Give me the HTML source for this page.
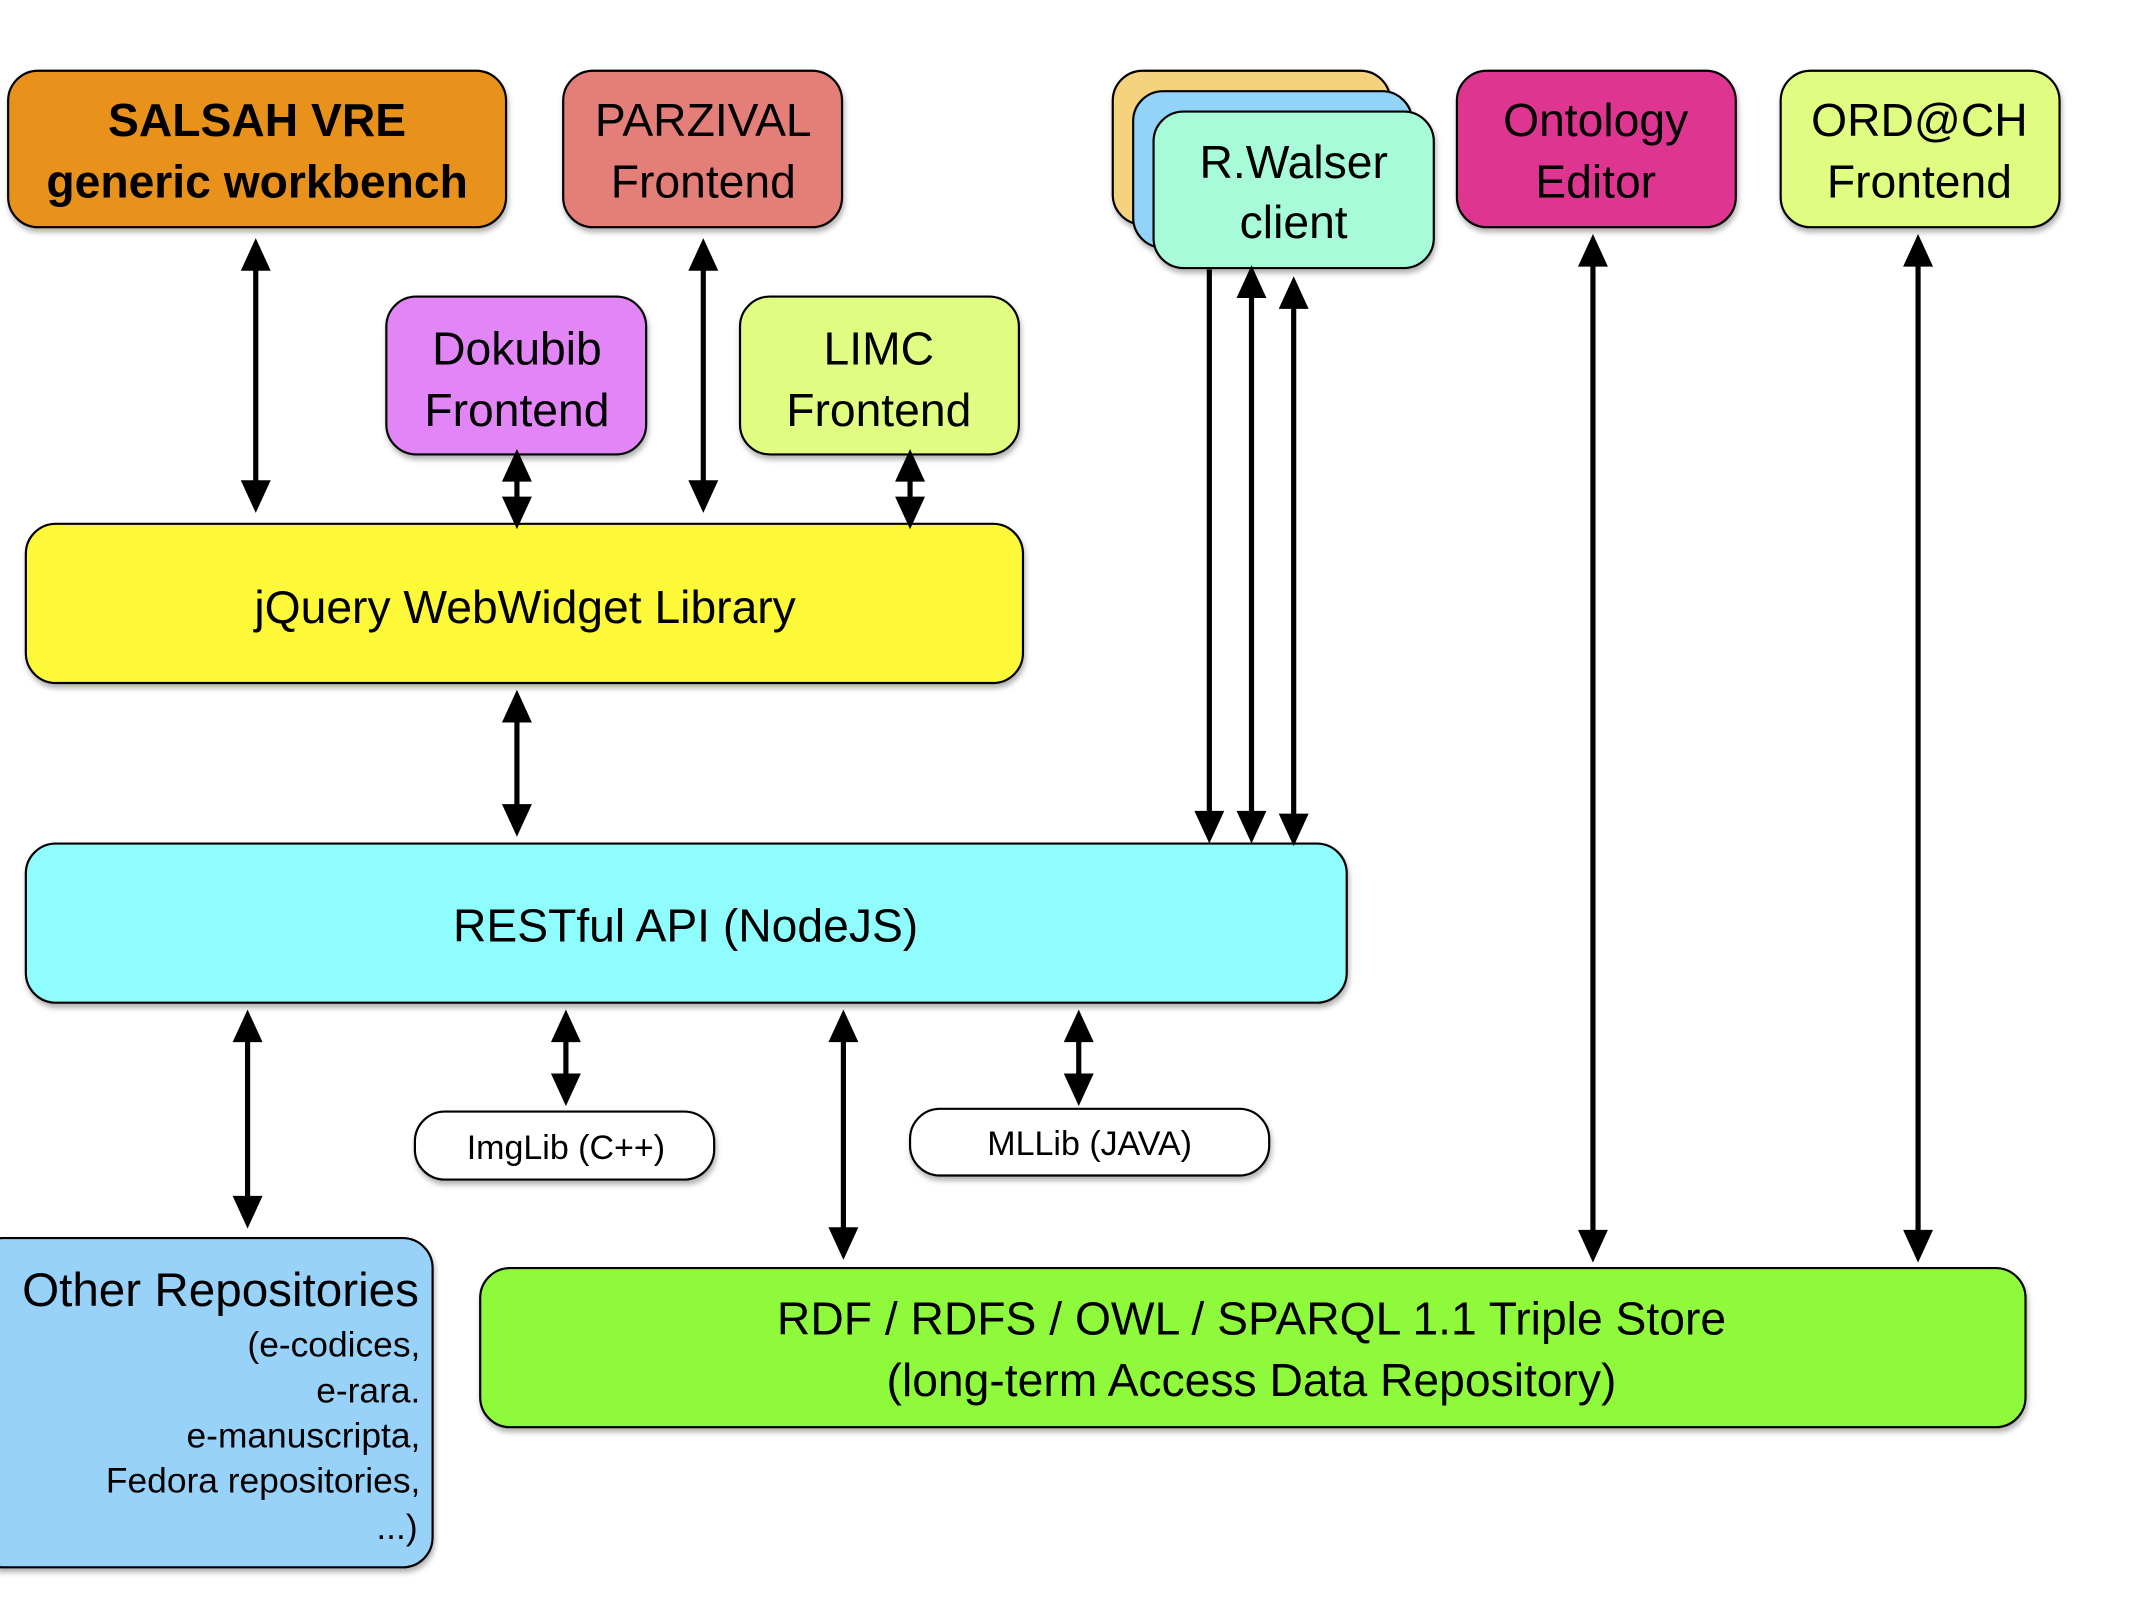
<!DOCTYPE html>
<html><head><meta charset="utf-8"><style>
html,body{margin:0;padding:0;background:#fff}
svg{display:block}
text{font-family:"Liberation Sans",sans-serif;fill:#000}
</style></head><body>
<svg width="2133" height="1600" viewBox="0 0 1568 1176" preserveAspectRatio="none" xmlns="http://www.w3.org/2000/svg">
<defs>
<filter id="sh" x="-10%" y="-10%" width="120%" height="130%"><feDropShadow dx="1" dy="3" stdDeviation="2" flood-color="#000" flood-opacity="0.3"/></filter>
</defs>
<g stroke="#000" stroke-width="1.6" filter="url(#sh)">
<rect x="6" y="52" width="366" height="115" rx="22" fill="#E8921E"/>
<rect x="414" y="52" width="205" height="115" rx="22" fill="#E37E78"/>
<rect x="818" y="52" width="204" height="113" rx="22" fill="#F4D27E"/>
<rect x="833" y="67" width="205" height="115" rx="22" fill="#93D3F9"/>
<rect x="848" y="82" width="206" height="115" rx="22" fill="#A7FBD9"/>
<rect x="1071" y="52" width="205" height="115" rx="22" fill="#DD3590"/>
<rect x="1309" y="52" width="205" height="115" rx="22" fill="#E1FD81"/>
<rect x="284" y="218" width="191" height="116" rx="22" fill="#E185F7"/>
<rect x="544" y="218" width="205" height="116" rx="22" fill="#E1FD81"/>
<rect x="19" y="385" width="733" height="117" rx="22" fill="#FDF939"/>
<rect x="19" y="620" width="971" height="117" rx="22" fill="#8FFDFE"/>
<rect x="305" y="817" width="220" height="50" rx="22" fill="#fff"/>
<rect x="669" y="815" width="264" height="49" rx="22" fill="#fff"/>
<rect x="-20" y="910" width="338" height="242" rx="22" fill="#99D2F9"/>
<rect x="353" y="932" width="1136" height="117" rx="22" fill="#8FF93A"/>
</g>
<g font-size="34" text-anchor="middle">
<text x="189" y="100" font-weight="bold">SALSAH VRE</text>
<text x="189" y="145" font-weight="bold">generic workbench</text>
<text x="517" y="100">PARZIVAL</text>
<text x="517" y="145">Frontend</text>
<text x="951" y="131">R.Walser</text>
<text x="951" y="175">client</text>
<text x="1173" y="100">Ontology</text>
<text x="1173" y="145">Editor</text>
<text x="1411" y="100">ORD@CH</text>
<text x="1411" y="145">Frontend</text>
<text x="380" y="268">Dokubib</text>
<text x="380" y="313">Frontend</text>
<text x="646" y="268">LIMC</text>
<text x="646" y="313">Frontend</text>
<text x="386" y="458">jQuery WebWidget Library</text>
<text x="504" y="692">RESTful API (NodeJS)</text>
<text x="920" y="981">RDF / RDFS / OWL / SPARQL 1.1 Triple Store</text>
<text x="920" y="1026">(long-term Access Data Repository)</text>
<text x="416" y="852" font-size="25">ImgLib (C++)</text>
<text x="801" y="849" font-size="25">MLLib (JAVA)</text>
</g>
<g text-anchor="end" font-size="26">
<text x="308" y="960" font-size="35">Other Repositories</text>
<text x="309" y="997">(e-codices,</text>
<text x="309" y="1031">e-rara.</text>
<text x="309" y="1064">e-manuscripta,</text>
<text x="309" y="1097">Fedora repositories,</text>
<text x="307" y="1131">...)</text>
</g>
<g stroke="#000" stroke-width="3.8">
<line x1="188" y1="190" x2="188" y2="362"/>
<line x1="517" y1="190" x2="517" y2="362"/>
<line x1="380" y1="345" x2="380" y2="374"/>
<line x1="669" y1="345" x2="669" y2="374"/>
<line x1="380" y1="522" x2="380" y2="600"/>
<line x1="889" y1="198" x2="889" y2="605"/>
<line x1="920" y1="210" x2="920" y2="605"/>
<line x1="951" y1="218" x2="951" y2="607"/>
<line x1="1171" y1="187" x2="1171" y2="913"/>
<line x1="1410" y1="187" x2="1410" y2="913"/>
<line x1="182" y1="757" x2="182" y2="888"/>
<line x1="416" y1="757" x2="416" y2="798"/>
<line x1="620" y1="757" x2="620" y2="911"/>
<line x1="793" y1="757" x2="793" y2="798"/>
</g>
<g fill="#000">
<path d="M188 175 l-11 24 h22z M517 175 l-11 24 h22z M380 330 l-11 24 h22z M669 330 l-11 24 h22z M380 507 l-11 24 h22z M920 195 l-11 24 h22z M951 203 l-11 24 h22z M1171 172 l-11 24 h22z M1410 172 l-11 24 h22z M182 742 l-11 24 h22z M416 742 l-11 24 h22z M620 742 l-11 24 h22z M793 742 l-11 24 h22z"/>
<path d="M188 377 l-11 -24 h22z M517 377 l-11 -24 h22z M380 389 l-11 -24 h22z M669 389 l-11 -24 h22z M380 615 l-11 -24 h22z M889 620 l-11 -24 h22z M920 620 l-11 -24 h22z M951 622 l-11 -24 h22z M1171 928 l-11 -24 h22z M1410 928 l-11 -24 h22z M182 903 l-11 -24 h22z M416 813 l-11 -24 h22z M620 926 l-11 -24 h22z M793 813 l-11 -24 h22z"/>
</g>
</svg>
</body></html>
